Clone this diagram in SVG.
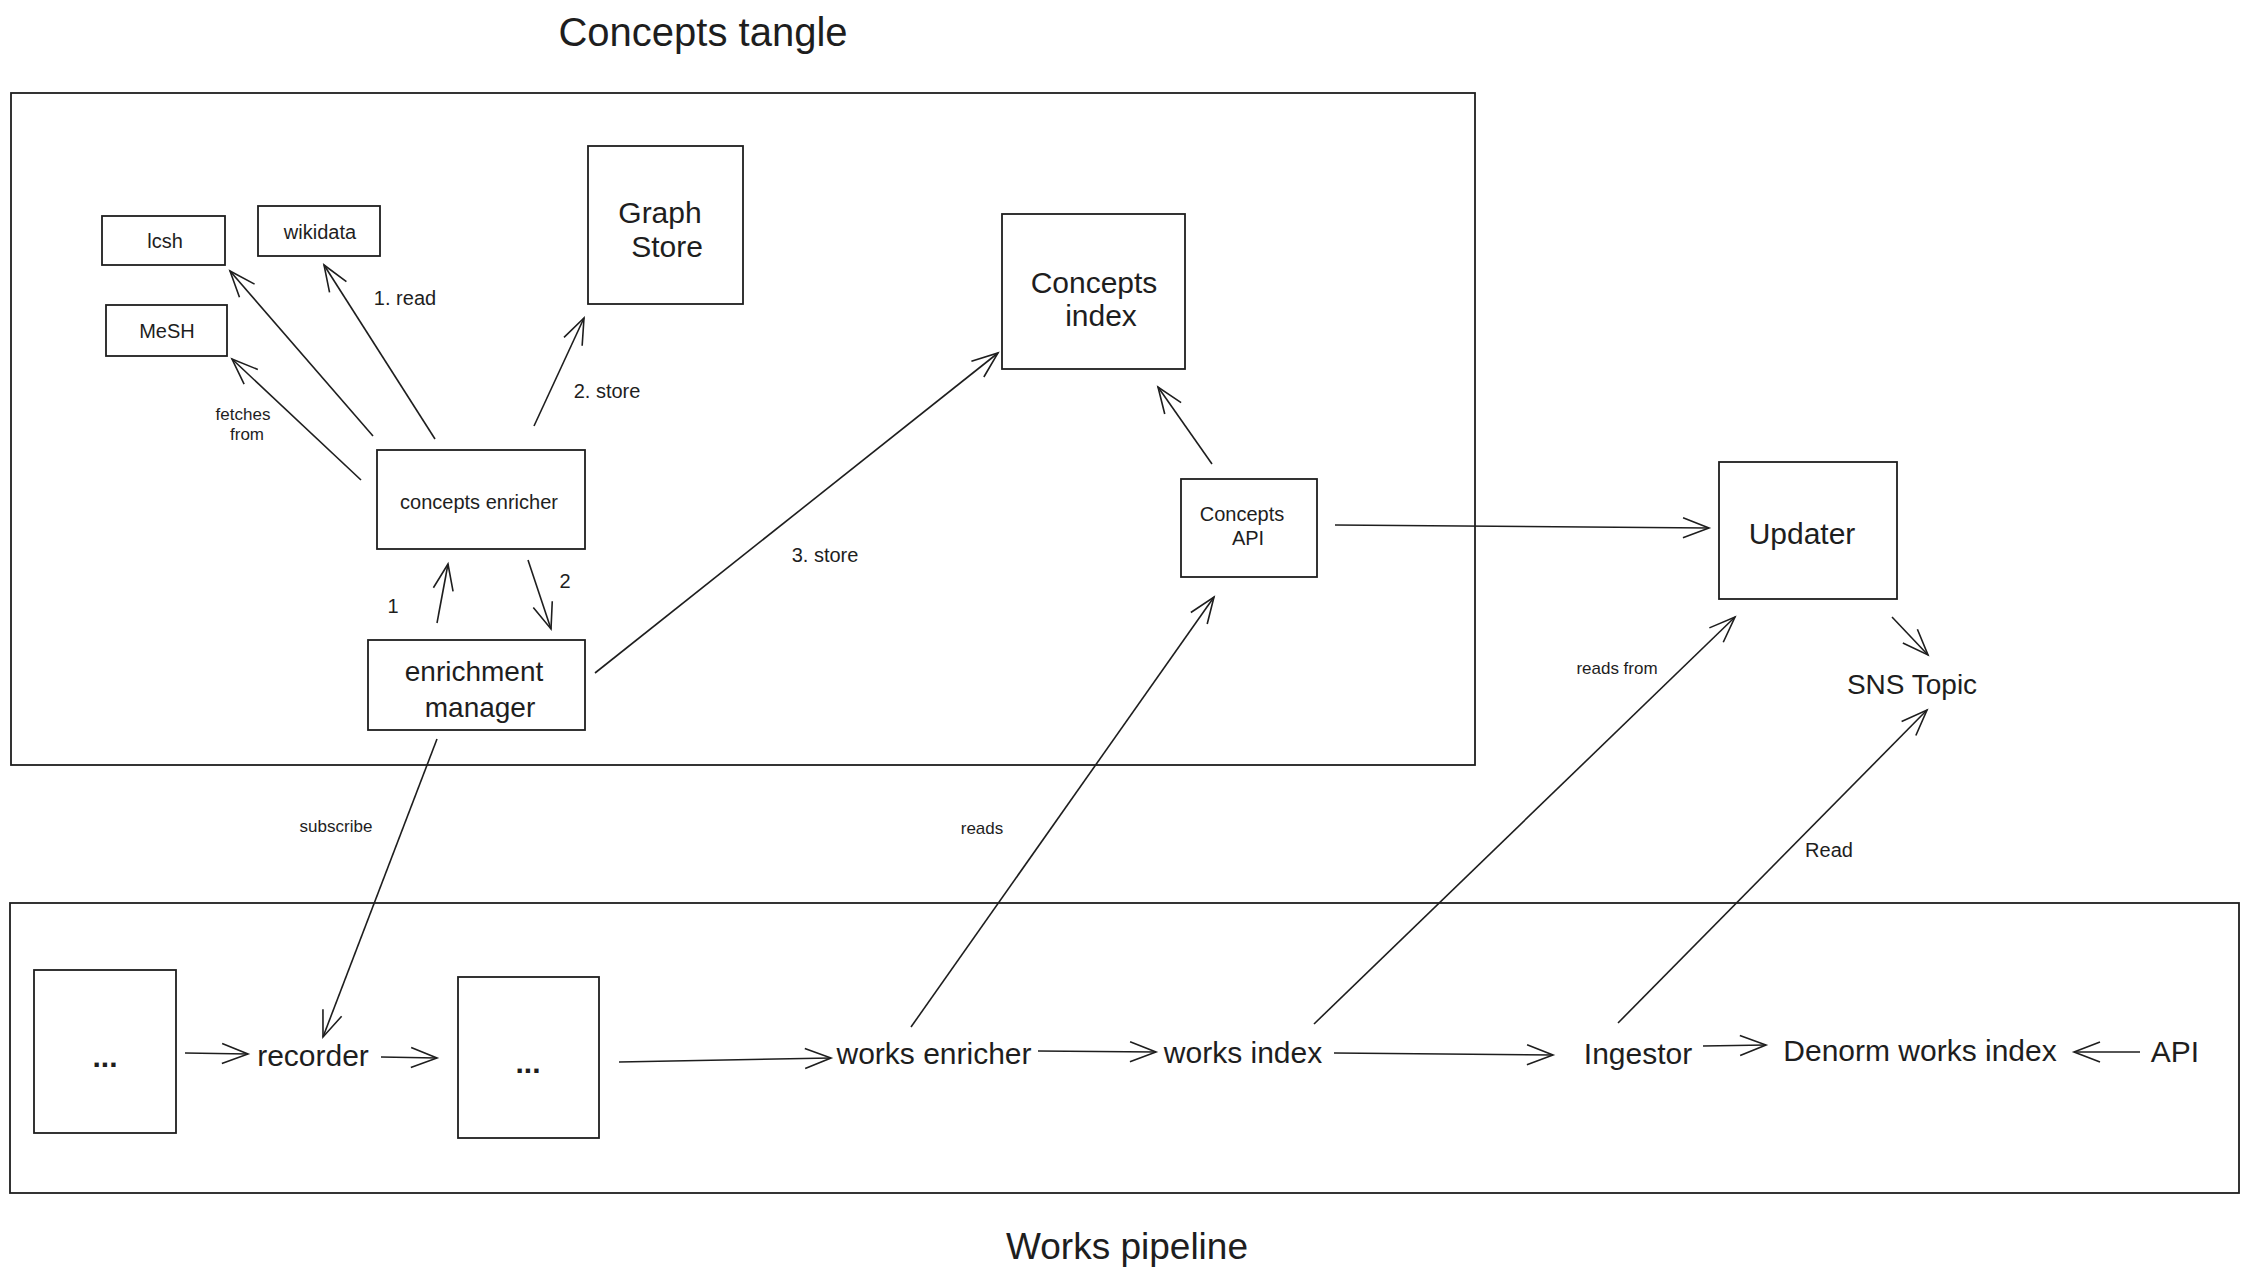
<svg xmlns="http://www.w3.org/2000/svg" width="2249" height="1280" viewBox="0 0 2249 1280">
<style>
.box{fill:none;stroke:#1e1e1e;stroke-width:1.8}
.frame{fill:none;stroke:#1e1e1e;stroke-width:1.8}
.t{font-family:"Liberation Sans",Arial,sans-serif;fill:#1e1e1e;text-anchor:middle;dominant-baseline:central}
.big{font-size:30px}
.mid{font-size:28px}
.sm{font-size:20px}
.xs{font-size:17px}
.title{font-size:37px}
.c{fill:none;stroke:#1e1e1e;stroke-width:1.6;marker-end:url(#arr)}
</style>
<defs>
<marker id="arr" viewBox="-30 -14 34 28" refX="0" refY="0" markerWidth="34" markerHeight="28" orient="auto" markerUnits="userSpaceOnUse">
<path d="M-26,-10 L0,0 L-26,10" fill="none" stroke="#1e1e1e" stroke-width="1.6"/>
</marker>
</defs>
<rect width="2249" height="1280" fill="#ffffff"/>

<g id="frame-concepts">
<rect class="frame" x="11" y="93" width="1464" height="672"/>
<text class="t title" x="703" y="32" font-size="40" style="font-size:40px">Concepts tangle</text>
</g>
<g id="frame-works">
<rect class="frame" x="10" y="903" width="2229" height="290"/>
<text class="t title" x="1127" y="1246">Works pipeline</text>
</g>

<g id="lcsh"><rect class="box" x="102" y="216" width="123" height="49"/><text class="t sm" x="165" y="241">lcsh</text></g>
<g id="wikidata"><rect class="box" x="258" y="206" width="122" height="50"/><text class="t sm" x="320" y="232">wikidata</text></g>
<g id="mesh"><rect class="box" x="106" y="305" width="121" height="51"/><text class="t sm" x="167" y="331">MeSH</text></g>
<g id="graph-store"><rect class="box" x="588" y="146" width="155" height="158"/><text class="t big" x="660" y="212">Graph</text><text class="t big" x="667" y="246">Store</text></g>
<g id="concepts-enricher"><rect class="box" x="377" y="450" width="208" height="99"/><text class="t sm" x="479" y="502">concepts enricher</text></g>
<g id="enrichment-manager"><rect class="box" x="368" y="640" width="217" height="90"/><text class="t mid" x="474" y="671">enrichment</text><text class="t mid" x="480" y="707">manager</text></g>
<g id="concepts-index"><rect class="box" x="1002" y="214" width="183" height="155"/><text class="t big" x="1094" y="282">Concepts</text><text class="t big" x="1101" y="315">index</text></g>
<g id="concepts-api"><rect class="box" x="1181" y="479" width="136" height="98"/><text class="t sm" x="1242" y="514">Concepts</text><text class="t sm" x="1248" y="538">API</text></g>
<g id="updater"><rect class="box" x="1719" y="462" width="178" height="137"/><text class="t big" x="1802" y="533">Updater</text></g>
<g id="sns-topic"><text class="t mid" x="1912" y="684">SNS Topic</text></g>
<g id="dots1"><rect class="box" x="34" y="970" width="142" height="163"/><text class="t big" x="105" y="1056" font-weight="bold">...</text></g>
<g id="recorder"><text class="t big" x="313" y="1055">recorder</text></g>
<g id="dots2"><rect class="box" x="458" y="977" width="141" height="161"/><text class="t big" x="528" y="1062" font-weight="bold">...</text></g>
<g id="works-enricher"><text class="t big" x="934" y="1053">works enricher</text></g>
<g id="works-index"><text class="t big" x="1243" y="1052">works index</text></g>
<g id="ingestor"><text class="t big" x="1638" y="1053">Ingestor</text></g>
<g id="denorm-works-index"><text class="t big" x="1920" y="1050">Denorm works index</text></g>
<g id="api"><text class="t big" x="2175" y="1051">API</text></g>

<g id="connectors">
<path class="c" d="M373,436 L230,271"/>
<path class="c" d="M435,439 L324,265"/>
<path class="c" d="M361,480 L232,359"/>
<path class="c" d="M534,426 L584,318"/>
<path class="c" d="M437,623 L448,564"/>
<path class="c" d="M528,560 L551,629"/>
<path class="c" d="M595,673 L998,353"/>
<path class="c" d="M1212,464 L1158,387"/>
<path class="c" d="M1335,525 L1709,528"/>
<path class="c" d="M1892,617 L1928,655"/>
<path class="c" d="M437,739 L323,1037"/>
<path class="c" d="M185,1053 L248,1054"/>
<path class="c" d="M381,1057 L437,1058"/>
<path class="c" d="M619,1062 L831,1058"/>
<path class="c" d="M1038,1051 L1156,1052"/>
<path class="c" d="M1334,1053 L1553,1055"/>
<path class="c" d="M1703,1046 L1766,1045"/>
<path class="c" d="M2140,1052 L2074,1052"/>
<path class="c" d="M911,1027 L1214,597"/>
<path class="c" d="M1314,1024 L1735,617"/>
<path class="c" d="M1618,1023 L1927,710"/>
<text class="t sm" x="405" y="298">1. read</text>
<text class="t sm" x="607" y="391">2. store</text>
<text class="t xs" x="243" y="414">fetches</text>
<text class="t xs" x="247" y="434">from</text>
<text class="t sm" x="393" y="606">1</text>
<text class="t sm" x="565" y="581">2</text>
<text class="t sm" x="825" y="555">3. store</text>
<text class="t xs" x="336" y="826">subscribe</text>
<text class="t xs" x="982" y="828">reads</text>
<text class="t xs" x="1617" y="668">reads from</text>
<text class="t sm" x="1829" y="850">Read</text>
</g>
</svg>
